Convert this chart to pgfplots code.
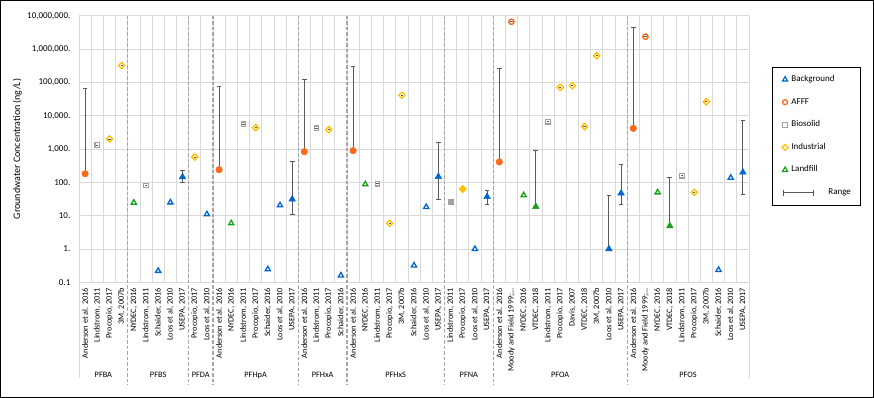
\documentclass[border=0pt]{standalone}
\usepackage{pgfplots}
\pgfplotsset{compat=1.18}
\usepackage{pgfplotstable}
\usepackage{fontspec}
\setmainfont{Carlito}
\definecolor{bgblue}{HTML}{0066CC}
\definecolor{afforange}{HTML}{F96A1B}
\definecolor{biogray}{HTML}{A0A0A0}
\definecolor{indyellow}{HTML}{FFC000}
\definecolor{lfgreen}{HTML}{1A9E1A}
\definecolor{gridgray}{HTML}{D9D9D9}
\definecolor{sepgray}{HTML}{A6A6A6}
\definecolor{rangecol}{HTML}{595959}
\newcommand{\trunc}{.\kern0pt.\kern0pt.}
\newcommand{\grouplabel}[2]{\node[font=\fontsize{8.3}{9}\selectfont, anchor=base, inner sep=0pt] at ([yshift=-95.4bp]axis cs:#1,0.1) {#2};}

\pgfplotstableread{
x y
6 0.22
7 25
10 11
15 0.245
16 20.4
21 0.16
27 0.32
28 18.2
32 1.0
52 0.235
53 137
}\bgopen
\pgfplotstableread{
x y
8 145
17 31
29 148
33 37
43 1.0
44 47
54 200
}\bgfill
\pgfplotstableread{
x y
0 181
11 239
18 830
22 890
34 410
45 4170
}\afffill
\pgfplotstableread{
x y
35 6600000
46 2350000
}\affopen
\pgfplotstableread{
x y
1 1300
5 81
13 5500
19 4170
24 91
38 6600
49 158
}\bioopen
\pgfplotstableread{
x y
30 26
}\biofill
\pgfplotstableread{
x y
2 2000
3 320000
9 575
14 4370
20 3800
25 5.9
26 41000
39 71000
40 79000
41 4670
42 630000
50 50
51 26000
}\indopen
\pgfplotstableread{
x y
31 63
}\indfill
\pgfplotstableread{
x y
4 24.5
12 5.9
23 87
36 41
47 50
}\lfopen
\pgfplotstableread{
x y
37 18.6
48 4.9
}\lffill
\pgfplotstableread{
x y
0 181
0 66000
0 nan
8 96
8 229
8 nan
11 239
11 76000
11 nan
17 10.5
17 416
17 nan
18 830
18 123000
18 nan
22 890
22 295000
22 nan
29 31
29 1590
29 nan
33 22
33 56
33 nan
34 410
34 257000
34 nan
37 18.6
37 890
37 nan
43 1.0
43 40
43 nan
44 21
44 345
44 nan
45 4170
45 4470000
45 nan
48 4.9
48 137
48 nan
54 42
54 7000
}\rangetab

\begin{document}
\begin{tikzpicture}
\useasboundingbox (0,0) rectangle (874bp,398bp);
\draw[black, line width=0.8bp] (0.4bp,0.4bp) rectangle (873.6bp,397.6bp);
\begin{axis}[
  at={(79bp,115.7bp)}, anchor=south west,
  scale only axis, width=670bp, height=266.6bp,
  clip=false,
  xmin=-0.5, xmax=54.5,
  ymode=log, ymin=0.1, ymax=1e7,
  ytick={0.1,1,10,100,1000,10000,100000,1000000,10000000},
  yticklabels={0.1,{1.},{10.},{100.},{1,000.},{10,000.},{100,000.},{1,000,000.},{10,000,000.}},
  xtick={0,...,54},
  xticklabels={
    {Anderson et al. 2016},{Lindstrom, 2011},{Procopio, 2017},{3M, 2007b},
    {NYDEC, 2016},{Lindstrom, 2011},{Schaider, 2016},{Loos et al, 2010},{USEPA, 2017},
    {Procopio, 2017},{Loos et al, 2010},
    {Anderson et al. 2016},{NYDEC, 2016},{Lindstrom, 2011},{Procopio, 2017},{Schaider, 2016},{Loos et al, 2010},{USEPA, 2017},
    {Anderson et al. 2016},{Lindstrom, 2011},{Procopio, 2017},{Schaider, 2016},
    {Anderson et al. 2016},{NYDEC, 2016},{Lindstrom, 2011},{Procopio, 2017},{3M, 2007b},{Schaider, 2016},{Loos et al, 2010},{USEPA, 2017},
    {Lindstrom, 2011},{Procopio, 2017},{Loos et al, 2010},{USEPA, 2017},
    {Anderson et al. 2016},{Moody and Field 1999;\trunc},{NYDEC, 2016},{VTDEC, 2018},{Lindstrom, 2011},{Procopio, 2017},{Davis, 2007},{VTDEC, 2018},{3M, 2007b},{Loos et al, 2010},{USEPA, 2017},
    {Anderson et al. 2016},{Moody and Field 1999;\trunc},{NYDEC, 2016},{VTDEC, 2018},{Lindstrom, 2011},{Procopio, 2017},{3M, 2007b},{Schaider, 2016},{Loos et al, 2010},{USEPA, 2017}},
  minor xtick={-0.5,0.5,...,54.5},
  xminorgrids=true, xmajorgrids=false, ymajorgrids=true, yminorgrids=false,
  major grid style={draw=gridgray, line width=0.8bp},
  minor grid style={draw=gridgray, line width=0.8bp},
  major tick length=0pt, minor tick length=0pt,
  tick style={draw=none},
  axis line style={draw=none},
  xticklabel style={font=\fontsize{8.3}{9}\selectfont, rotate=90, anchor=east, inner xsep=5.5bp, inner ysep=0pt},
  yticklabel style={font=\fontsize{9}{10}\selectfont, anchor=east, inner xsep=8.5bp},
  ylabel={Groundwater Concentration (ng/L)},
  ylabel style={font=\fontsize{10}{12}\selectfont, at={(axis description cs:-0.092,0.5)}, anchor=center},
  legend style={at={(1.0348,0.8087)}, anchor=north west, draw=black, line width=0.75bp,
    font=\fontsize{9}{10}\selectfont, inner xsep=9bp, inner ysep=8bp,
    row sep=13.6bp, column sep=3bp,
    nodes={inner sep=0pt, text height=6.5bp, text depth=2.5bp}},
  legend cell align=left,
]
% group separators and frame extensions
\pgfplotsinvokeforeach{3.5,8.5,10.5,17.5,21.5,29.5,33.5,44.5}{
  \draw[sepgray, line width=1.1bp, dash pattern=on 3.5bp off 2bp] (axis cs:#1,1e7) -- ([yshift=-102.5bp]axis cs:#1,0.1);
}
\draw[gridgray, line width=0.8bp] (axis cs:-0.5,0.1) -- ([yshift=-96bp]axis cs:-0.5,0.1);
\draw[gridgray, line width=0.8bp] (axis cs:54.5,0.1) -- ([yshift=-96bp]axis cs:54.5,0.1);

% range bars
\addplot[rangecol, line width=0.9bp, mark=-, mark size=2.4bp, mark options={solid}, unbounded coords=jump, forget plot] table {\rangetab};

% markers
\addplot[only marks, mark=triangle*, mark size=3bp, mark options={draw=bgblue, fill=white, line width=1.3bp}, forget plot] table {\bgopen};
\addplot[only marks, mark=triangle*, mark size=3.8bp, mark options={draw=bgblue, fill=bgblue, line width=0.5bp}, forget plot] table {\bgfill};
\addplot[only marks, mark=*, mark size=3.3bp, mark options={draw=afforange, fill=afforange}, forget plot] table {\afffill};
\addplot[only marks, mark=*, mark size=2.7bp, mark options={draw=afforange, fill=white, line width=1.4bp}, forget plot] table {\affopen};
\addplot[only marks, mark=square*, mark size=2.3bp, mark options={draw=biogray, fill=white, line width=1.1bp}, forget plot] table {\bioopen};
\addplot[only marks, mark=square*, mark size=2.6bp, mark options={draw=biogray, fill=biogray}, forget plot] table {\biofill};
\addplot[only marks, mark=square*, mark size=2.2bp, mark options={draw=indyellow, fill=white, line width=1.3bp, rotate=45}, forget plot] table {\indopen};
\addplot[only marks, mark=square*, mark size=2.8bp, mark options={draw=indyellow, fill=indyellow, rotate=45}, forget plot] table {\indfill};
\addplot[only marks, mark=triangle*, mark size=3bp, mark options={draw=lfgreen, fill=white, line width=1.3bp}, forget plot] table {\lfopen};
\addplot[only marks, mark=triangle*, mark size=3.8bp, mark options={draw=lfgreen, fill=lfgreen, line width=0.5bp}, forget plot] table {\lffill};
% inner dashes of zero ranges
\addplot[only marks, mark=-, mark size=1.3bp, mark options={draw=rangecol, line width=0.8bp}, forget plot] table {\affopen};
\addplot[only marks, mark=-, mark size=1.1bp, mark options={draw=rangecol, line width=0.8bp}, forget plot] table {\bioopen};
\addplot[only marks, mark=-, mark size=1.1bp, mark options={draw=rangecol, line width=0.8bp}, forget plot] table {\indopen};

% group labels
\grouplabel{1.5}{PFBA}
\grouplabel{6}{PFBS}
\grouplabel{9.5}{PFDA}
\grouplabel{14}{PFHpA}
\grouplabel{19.5}{PFHxA}
\grouplabel{25.5}{PFHxS}
\grouplabel{31.5}{PFNA}
\grouplabel{39}{PFOA}
\grouplabel{49.5}{PFOS}

% legend
\addlegendimage{legend image code/.code={\draw[bgblue, line width=1.2bp, fill=white] plot[only marks, mark=triangle*, mark size=2.9bp] coordinates {(0bp,0bp)};}}
\addlegendentry{Background}
\addlegendimage{legend image code/.code={\draw[afforange, line width=1.3bp, fill=white] plot[only marks, mark=*, mark size=2.5bp] coordinates {(0bp,0bp)};}}
\addlegendentry{AFFF}
\addlegendimage{legend image code/.code={\draw[biogray, line width=1bp, fill=white] plot[only marks, mark=square*, mark size=2.3bp] coordinates {(0bp,0bp)};}}
\addlegendentry{Biosolid}
\addlegendimage{legend image code/.code={\draw[indyellow, line width=1.3bp, fill=white] plot[only marks, mark=square*, mark size=2.1bp, mark options={rotate=45}] coordinates {(0bp,0bp)};}}
\addlegendentry{Industrial}
\addlegendimage{legend image code/.code={\draw[lfgreen, line width=1.2bp, fill=white] plot[only marks, mark=triangle*, mark size=2.9bp] coordinates {(0bp,0bp)};}}
\addlegendentry{Landfill}
\addlegendimage{legend image code/.code={\path (-3bp,0bp) (3bp,0bp); \draw[rangecol, line width=0.9bp, overlay] (-1.5bp,0bp) -- (28.5bp,0bp) (-1.5bp,-3bp) -- (-1.5bp,3bp) (28.5bp,-3bp) -- (28.5bp,3bp);}}
\addlegendentry{\hspace{37bp}Range}
\end{axis}
\end{tikzpicture}
\end{document}
